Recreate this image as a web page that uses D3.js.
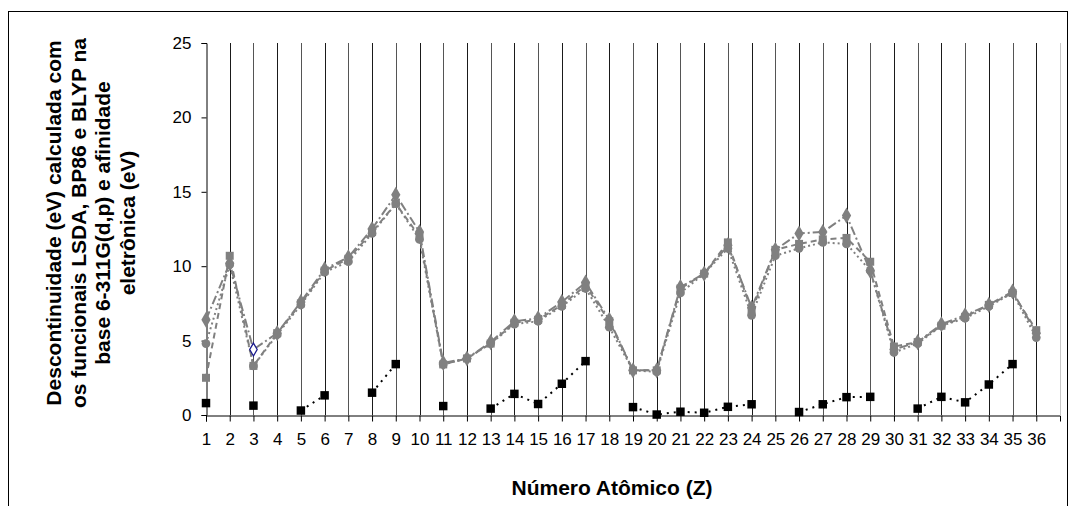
<!DOCTYPE html>
<html>
<head>
<meta charset="utf-8">
<script src="https://cdn.jsdelivr.net/npm/d3@7"></script>
<style>
  html, body { margin: 0; padding: 0; background: #fff; }
  svg { display: block; font-family: "Liberation Sans", Arial, sans-serif; }
</style>
</head>
<body>
<svg id="chart" width="1075" height="506"></svg>
<script>
// Atomic numbers Z = 1..36
const atomicNumbers = d3.range(1, 37);
const yTicks = [0, 5, 10, 15, 20, 25];

// Derivative discontinuity (eV), 6-311G(d,p) basis
const lsda = [6.4, 10.2, 4.4, 5.5, 7.6, 9.8, 10.6, 12.5, 14.8, 12.3, 3.5, 3.8, 4.9, 6.3, 6.5, 7.6, 8.9, 6.4,
              3.0, 3.0, 8.6, 9.5, 11.4, 7.2, 11.1, 12.2, 12.3, 13.4, 9.7, 4.4, 4.9, 6.1, 6.7, 7.4, 8.3, 5.5];
const bp86 = [2.5, 10.7, 3.3, 5.5, 7.5, 9.7, 10.5, 12.3, 14.2, 12.0, 3.4, 3.8, 4.8, 6.2, 6.4, 7.4, 8.7, 6.3,
              3.0, 3.0, 8.5, 9.5, 11.6, 7.0, 11.1, 11.5, 11.8, 11.9, 10.3, 4.6, 4.9, 6.0, 6.6, 7.4, 8.2, 5.7];
const blyp = [4.8, 10.1, 3.3, 5.4, 7.4, 9.6, 10.3, 12.2, 14.2, 11.8, 3.4, 3.8, 4.8, 6.1, 6.3, 7.3, 8.5, 5.9,
              3.0, 2.9, 8.2, 9.5, 11.2, 6.7, 10.7, 11.2, 11.6, 11.5, 9.7, 4.2, 4.8, 6.0, 6.5, 7.3, 8.2, 5.2];
// Electron affinity (eV); null where no bound anion exists
const affinity = [0.8, null, 0.63, null, 0.3, 1.32, null, 1.5, 3.42, null, 0.6, null, 0.43, 1.42, 0.74, 2.1, 3.62, null,
                  0.53, 0.03, 0.22, 0.15, 0.55, 0.72, null, 0.2, 0.72, 1.2, 1.22, null, 0.43, 1.22, 0.85, 2.05, 3.42, null];
// Point of the LSDA series drawn with its own marker
const highlightedZ = 3;

const svg = d3.select("#chart");

// outer chart frame
svg.append("rect")
  .attr("x", 8.5).attr("y", 11.5)
  .attr("width", 1059).attr("height", 600)
  .attr("fill", "none").attr("stroke", "#000").attr("stroke-width", 1);

const x = d3.scaleLinear().domain([1, 37]).range([206, 1060]);
const y = d3.scaleLinear().domain([0, 25]).range([415, 43]);

// vertical gridlines at each atomic number
svg.append("g").selectAll("line")
  .data(d3.range(2, 37))
  .join("line")
  .attr("x1", d => Math.round(x(d)) + 0.5).attr("x2", d => Math.round(x(d)) + 0.5)
  .attr("y1", y(25)).attr("y2", y(0))
  .attr("stroke", (d, i) => i % 2 ? "#555" : "#1a1a1a").attr("stroke-width", 1);
svg.append("line")
  .attr("x1", Math.round(x(37)) + 0.5).attr("x2", Math.round(x(37)) + 0.5)
  .attr("y1", y(25)).attr("y2", y(0))
  .attr("stroke", "#c8c8c8").attr("stroke-width", 1);

const tickFont = 17;

// y axis
const yAxis = svg.append("g")
  .attr("transform", `translate(${Math.round(x(1)) + 0.5},0)`)
  .call(d3.axisLeft(y).tickValues(yTicks).tickSize(5).tickPadding(10).tickFormat(d3.format("d")));
yAxis.select(".domain").attr("stroke", "#000");
yAxis.selectAll(".tick line").attr("stroke", "#000");
yAxis.selectAll("text").attr("font-size", tickFont).attr("fill", "#000")
  .attr("font-family", "Liberation Sans, Arial, sans-serif");

// x axis
const xAxis = svg.append("g")
  .attr("transform", `translate(0,${Math.round(y(0)) + 0.5})`)
  .call(d3.axisBottom(x).tickValues(atomicNumbers).tickSize(6).tickPadding(11).tickFormat(d3.format("d")));
xAxis.select(".domain").attr("stroke", "#000");
xAxis.selectAll(".tick line").attr("stroke", "#000");
xAxis.selectAll("text").attr("font-size", tickFont).attr("fill", "#000")
  .attr("font-family", "Liberation Sans, Arial, sans-serif");

// series
const gray = "#808080";
const series = [
  { values: lsda, dash: "9,3,2,3", marker: "diamond" },
  { values: bp86, dash: "6,4", marker: "square" },
  { values: blyp, dash: "2,3", marker: "circle" }
];

const line = d3.line()
  .defined(d => d.v != null)
  .x(d => x(d.z)).y(d => y(d.v));

const plot = svg.append("g");

series.forEach(s => {
  const pts = atomicNumbers.map((z, i) => ({ z, v: s.values[i] }));
  plot.append("path")
    .datum(pts)
    .attr("d", line)
    .attr("fill", "none")
    .attr("stroke", gray)
    .attr("stroke-width", 2)
    .attr("stroke-dasharray", s.dash);
});

const markerPath = {
  diamond: d3.symbol().type(d3.symbolDiamond).size(75)(),
  square: d3.symbol().type(d3.symbolSquare).size(64)(),
  circle: d3.symbol().type(d3.symbolCircle).size(60)()
};

series.forEach(s => {
  const pts = atomicNumbers.map((z, i) => ({ z, v: s.values[i] }))
    .filter(d => !(s.marker === "diamond" && d.z === highlightedZ));
  plot.append("g").selectAll("path")
    .data(pts)
    .join("path")
    .attr("d", markerPath[s.marker])
    .attr("transform", d => `translate(${x(d.z)},${y(d.v)})`)
    .attr("fill", gray);
});

// highlighted LSDA point
plot.append("path")
  .attr("d", d3.symbol().type(d3.symbolDiamond).size(48)())
  .attr("transform", `translate(${x(highlightedZ)},${y(lsda[highlightedZ - 1])})`)
  .attr("fill", "#fff").attr("stroke", "#1a1a8c").attr("stroke-width", 1.3);

// electron affinity
const eaPts = atomicNumbers.map((z, i) => ({ z, v: affinity[i] }));
plot.append("path")
  .datum(eaPts)
  .attr("d", line)
  .attr("fill", "none")
  .attr("stroke", "#000")
  .attr("stroke-width", 2)
  .attr("stroke-dasharray", "2,5");
plot.append("g").selectAll("path")
  .data(eaPts.filter(d => d.v != null))
  .join("path")
  .attr("d", d3.symbol().type(d3.symbolSquare).size(72)())
  .attr("transform", d => `translate(${x(d.z)},${y(d.v)})`)
  .attr("fill", "#000");

// axis titles
svg.append("text")
  .attr("x", 612).attr("y", 495)
  .attr("text-anchor", "middle")
  .attr("font-size", 21).attr("font-weight", "bold")
  .text("Número Atômico (Z)");

const yTitleLines = [
  "Descontinuidade (eV) calculada com",
  "os funcionais LSDA, BP86 e BLYP na",
  "base 6-311G(d,p) e afinidade",
  "eletrônica (eV)"
];
const yTitle = svg.append("text")
  .attr("transform", "translate(91,223) rotate(-90)")
  .attr("text-anchor", "middle")
  .attr("font-size", 21).attr("font-weight", "bold");
yTitle.selectAll("tspan")
  .data(yTitleLines)
  .join("tspan")
  .attr("x", 0)
  .attr("y", (d, i) => (i - 1.5) * 24.8 + 7)
  .text(d => d);
</script>
</body>
</html>
